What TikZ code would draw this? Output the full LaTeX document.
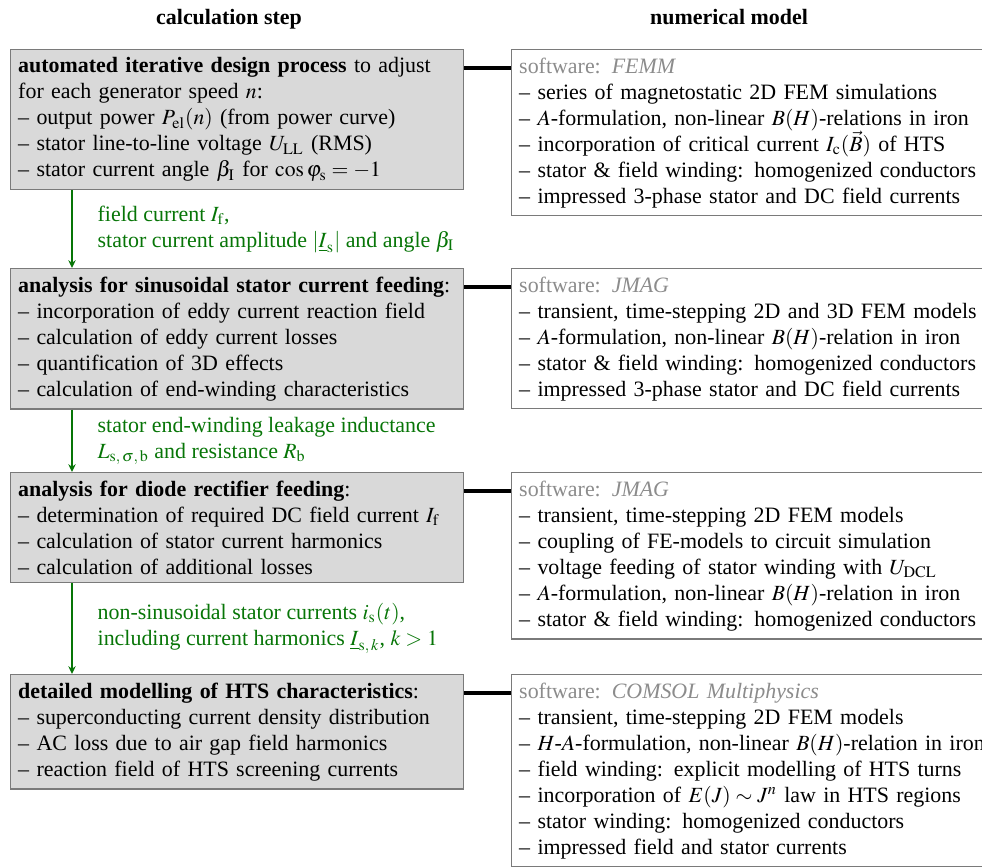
\documentclass[tikz,border=0pt]{standalone}
\usepackage{mathptmx}
\usepackage[no-math]{fontspec}
\setmainfont{Liberation Serif}[Scale=1.012]
\usetikzlibrary{arrows.meta}
\definecolor{simGreen}{HTML}{077507}
\definecolor{simFill}{HTML}{D9D9D9}
\definecolor{simFrame}{HTML}{7A7A7A}
\definecolor{simGray}{HTML}{8C8C8C}
\tikzset{
  sim step/.style={draw=simFrame, fill=simFill, line width=0.6pt, anchor=north west, align=left, text width=202pt, inner xsep=3.5pt, inner ysep=3.7pt},
  sim model/.style={draw=simFrame, fill=white, line width=0.6pt, anchor=north west, align=left, text width=250pt, inner xsep=3.5pt, inner ysep=3.7pt},
  sim link/.style={draw=black, line width=1.6pt},
  sim flow/.style={draw=simGreen, line width=0.7pt, -{Stealth[length=3.6pt, width=3.4pt]}},
  sim note/.style={text=simGreen, align=left, inner sep=0pt},
  sim head/.style={font=\bfseries, anchor=base},
}
\newcommand{\simsoft}[1]{{\color{simGray}software: \textit{#1}}}

\begin{document}
\begin{tikzpicture}[x=0.4615pt, y=-0.4615pt]
  % Page: 982 x 866 units
  \useasboundingbox (0,0) rectangle (982,866);

  % Column heads
  \node[sim head] (stephead) at (229,24) {calculation step};
  \node[sim head] (modelhead) at (729,24) {numerical model};

  % Calculation steps
  \node[sim step] (design) at (10,49) {\textbf{automated iterative design process} to adjust\\
    for each generator speed $n$:\\
    -- output power $P_\mathrm{el}(n)$ (from power curve)\\
    -- stator line-to-line voltage $U_\mathrm{LL}$ (RMS)\\
    -- stator current angle $\beta_\mathrm{I}$ for $\cos\varphi_\mathrm{s}=-1$};
  \node[sim step] (sinus) at (10,268) {\textbf{analysis for sinusoidal stator current feeding}:\\
    -- incorporation of eddy current reaction field\\
    -- calculation of eddy current losses\\
    -- quantification of 3D effects\\
    -- calculation of end-winding characteristics};
  \node[sim step] (diode) at (10,472) {\textbf{analysis for diode rectifier feeding}:\\
    -- determination of required DC field current $I_\mathrm{f}$\\
    -- calculation of stator current harmonics\\
    -- calculation of additional losses};
  \node[sim step] (hts) at (10,674) {\textbf{detailed modelling of HTS characteristics}:\\
    -- superconducting current density distribution\\
    -- AC loss due to air gap field harmonics\\
    -- reaction field of HTS screening currents};

  % Numerical models
  \node[sim model] (femm) at (511,49) {\simsoft{FEMM}\\
    -- series of magnetostatic 2D FEM simulations\\
    -- $A$-formulation, non-linear $B(H)$-relations in iron\\
    -- incorporation of critical current $I_\mathrm{c}(\vec{B})$ of HTS\\
    -- stator \& field winding: homogenized conductors\\
    -- impressed 3-phase stator and DC field currents};
  \node[sim model] (jmagsin) at (511,268) {\simsoft{JMAG}\\
    -- transient, time-stepping 2D and 3D FEM models\\
    -- $A$-formulation, non-linear $B(H)$-relation in iron\\
    -- stator \& field winding: homogenized conductors\\
    -- impressed 3-phase stator and DC field currents};
  \node[sim model] (jmagdio) at (511,472) {\simsoft{JMAG}\\
    -- transient, time-stepping 2D FEM models\\
    -- coupling of FE-models to circuit simulation\\
    -- voltage feeding of stator winding with $U_\mathrm{DCL}$\\
    -- $A$-formulation, non-linear $B(H)$-relation in iron\\
    -- stator \& field winding: homogenized conductors};
  \node[sim model] (comsol) at (511,674) {\simsoft{COMSOL Multiphysics}\\
    -- transient, time-stepping 2D FEM models\\
    -- $H$-$A$-formulation, non-linear $B(H)$-relation in iron\\
    -- field winding: explicit modelling of HTS turns\\
    -- incorporation of $E(J)\sim J^n$ law in HTS regions\\
    -- stator winding: homogenized conductors\\
    -- impressed field and stator currents};

  % Links step -> model
  \foreach \a/\b in {design/femm, sinus/jmagsin, diode/jmagdio, hts/comsol} {
    \draw[sim link] (\a.mid east) -- (\a.mid east -| \b.west);
  }

  % Flow between steps
  \path (design.south west) ++(62,0) coordinate (flowA)
        (sinus.south west) ++(62,0) coordinate (flowB)
        (diode.south west) ++(62,0) coordinate (flowC);
  \draw[sim flow] (flowA) -- node[sim note, right=11.5pt] {field current $I_\mathrm{f}$,\\
    stator current amplitude $|\underline{I}_\mathrm{s}|$ and angle $\beta_\mathrm{I}$} (flowA |- sinus.north);
  \draw[sim flow] (flowB) -- node[sim note, right=11.5pt] {stator end-winding leakage inductance\\
    $L_{\mathrm{s},\,\sigma,\,\mathrm{b}}$ and resistance $R_\mathrm{b}$} (flowB |- diode.north);
  \draw[sim flow] (flowC) -- node[sim note, right=11.5pt] {non-sinusoidal stator currents $i_\mathrm{s}(t)$,\\
    including current harmonics $\underline{I}_{\mathrm{s},\,k}$, $k>1$} (flowC |- hts.north);
\end{tikzpicture}
\end{document}
